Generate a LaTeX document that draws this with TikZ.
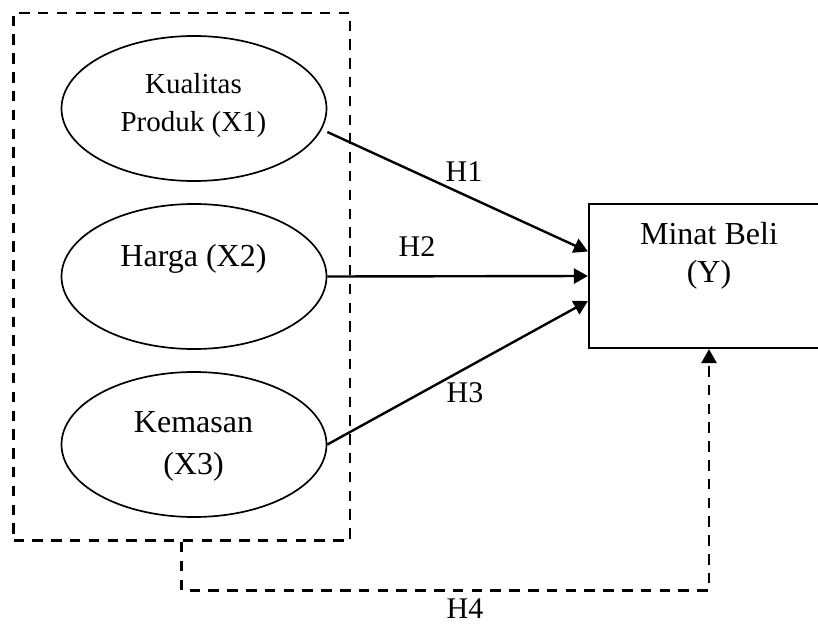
\documentclass[tikz,border=0pt]{standalone}
\usepackage{fontspec}
\setmainfont{Liberation Serif}
\usetikzlibrary{arrows.meta,shapes.geometric}
\tikzset{
  ell/.style={draw, ellipse, line width=1.7pt, minimum width=265pt, minimum height=145pt, inner sep=0pt},
  grpbox/.style={draw, dash pattern=on 10.5pt off 8.3pt, line width=2.8pt, minimum width=336.5pt, minimum height=527.5pt, inner sep=0pt},
  ybox/.style={draw, line width=2.2pt, minimum width=240pt, minimum height=144pt, inner sep=0pt},
  lbl/.style={anchor=base, inner sep=0pt, font=\fontsize{32}{38}\selectfont},
  slbl/.style={anchor=base, inner sep=0pt, font=\fontsize{29}{35}\selectfont},
  hlbl/.style={anchor=base, inner sep=0pt, font=\fontsize{30}{36}\selectfont},
  arr/.style={line width=2.4pt, -{Triangle[length=14pt,width=15pt]}},
  darr/.style={line width=2.8pt, dash pattern=on 10.5pt off 8.3pt, -{Triangle[length=14pt,width=15pt]}},
}
\begin{document}
\begin{tikzpicture}[x=1pt,y=-1pt]
\useasboundingbox (0,0) rectangle (818,626);
\clip (0,0) rectangle (818,626);

% group box
\node[grpbox] (grp) at (181.75,276.75) {};

% ellipses
\node[ell] (e1) at (194,108.5) {};
\node[ell] (e2) at (194,276.5) {};
\node[ell] (e3) at (194,444.5) {};

\node[slbl] (t1a) at (193.5,93.3) {Kualitas};
\node[slbl] (t1b) at (193.5,131.7) {Produk (X1)};
\node[lbl] (t2) at (193.5,266) {Harga (X2)};
\node[lbl] (t3a) at (193.5,432) {Kemasan};
\node[lbl] (t3b) at (193.5,474.5) {(X3)};

% dependent box
\node[ybox] (y) at (709,276) {};
\node[lbl] (tya) at (709,244.3) {Minat Beli};
\node[lbl] (tyb) at (709,282.5) {(Y)};

% arrows
\draw[arr] ([yshift=-23.5pt]e1.east) -- ([yshift=24.5pt]y.west);
\draw[arr] (e2.east) -- (y.west);
\draw[arr] (e3.east) -- ([yshift=-25pt]y.west);

\draw[darr] (grp.south) -- ++(0,48.5) -| (y.south);

% labels
\node[hlbl] (h1) at (464,181.7) {H1};
\node[hlbl] (h2) at (417,256) {H2};
\node[hlbl] (h3) at (465,402.7) {H3};
\node[hlbl] (h4) at (465,618.5) {H4};
\end{tikzpicture}
\end{document}
